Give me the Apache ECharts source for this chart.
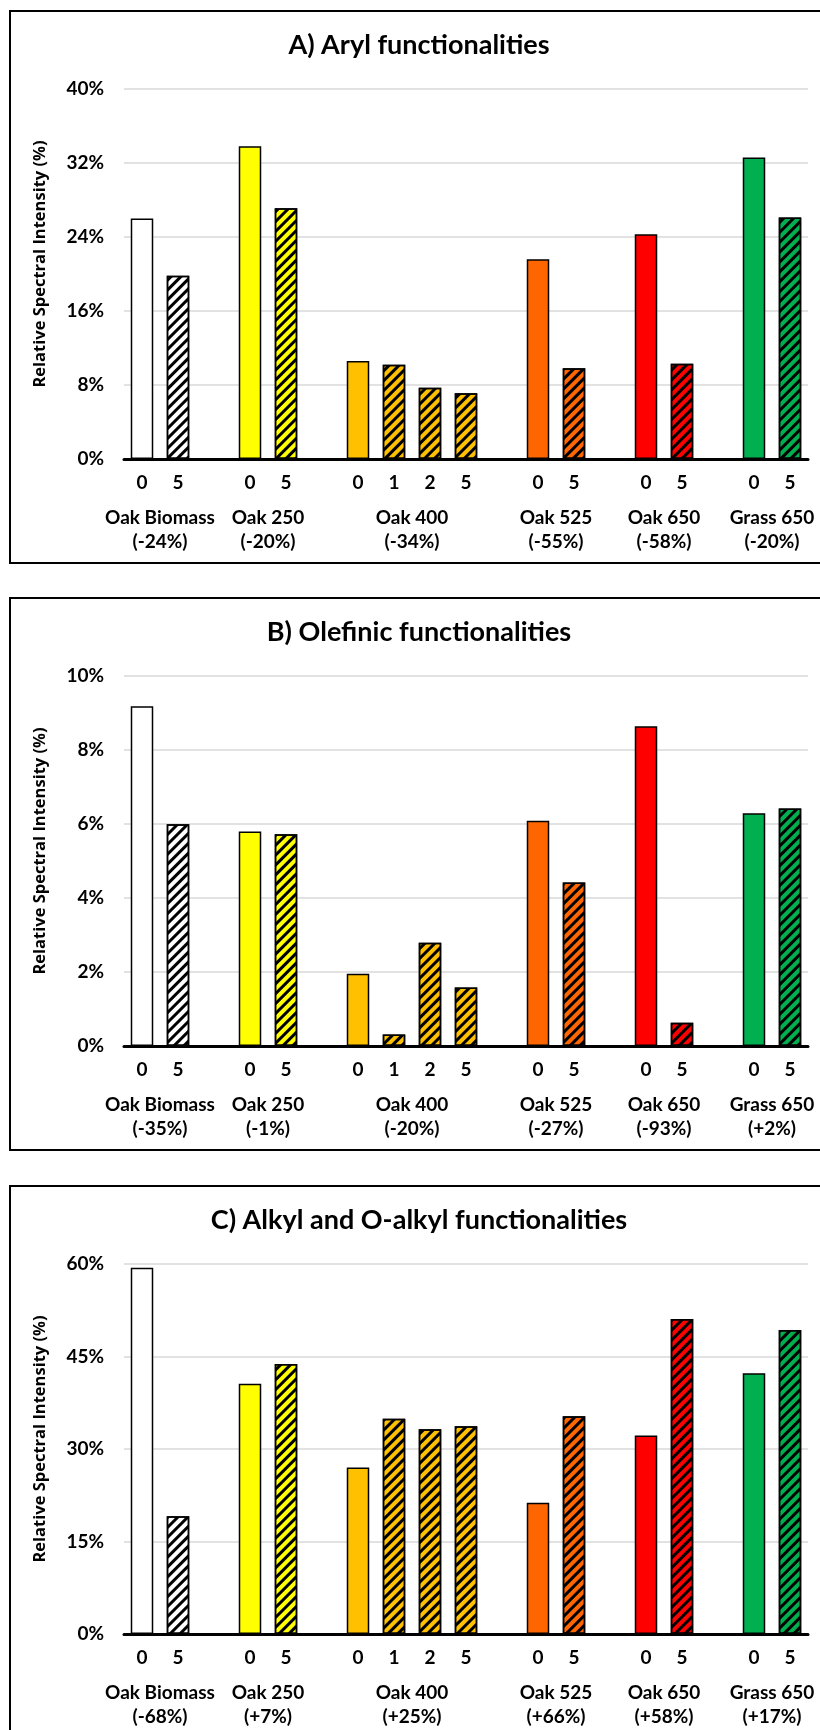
<!DOCTYPE html>
<html>
<head>
<meta charset="utf-8">
<script src="https://cdn.jsdelivr.net/npm/echarts@6/dist/echarts.min.js"></script>
<style>
html,body{margin:0;padding:0;background:#fff;}
#chart{width:820px;height:1730px;}
</style>
</head>
<body>
<div id="chart"></div>
<script>
// ---------- data ----------
const groupNames = ['Oak Biomass', 'Oak 250', 'Oak 400', 'Oak 525', 'Oak 650', 'Grass 650'];
const groupTimes = [['0','5'], ['0','5'], ['0','1','2','5'], ['0','5'], ['0','5'], ['0','5']];

const panelTitles = ['A) Aryl functionalities', 'B) Olefinic functionalities', 'C) Alkyl and O-alkyl functionalities'];
const yAxisName = 'Relative Spectral Intensity (%)';

// values in %, in order of the bars (group by group, time points in order)
const arylValues     = [26.0, 19.8, 33.8, 27.1, 10.6, 10.2, 7.7, 7.1, 21.6, 9.8, 24.3, 10.3, 32.6, 26.1];
const olefinicValues = [9.18, 5.99, 5.80, 5.72, 1.95, 0.31, 2.79, 1.58, 6.09, 4.42, 8.64, 0.63, 6.29, 6.42];
const alkylValues    = [59.4, 19.1, 40.6, 43.8, 27.0, 34.9, 33.2, 33.7, 21.3, 35.3, 32.2, 51.1, 42.3, 49.3];

const arylChanges     = ['-24%', '-20%', '-34%', '-55%', '-58%', '-20%'];
const olefinicChanges = ['-35%', '-1%', '-20%', '-27%', '-93%', '+2%'];
const alkylChanges    = ['-68%', '+7%', '+25%', '+66%', '+58%', '+17%'];

const yMax      = [40, 10, 60];
const yInterval = [8, 2, 15];

// ---------- style ----------
const groupColors = ['#FFFFFF', '#FFFF00', '#FFC000', '#FF6600', '#FF0000', '#00B050'];
const panelTops = [11, 598, 1186];
const FONT = 'Lato, "Liberation Sans", sans-serif';

// ---------- build slots (groups separated by an empty slot) ----------
const slotLabels = [];
const slotGroup = [];   // group index for bar slots, -1 for gap
const groupCenter = []; // in slot units (value axis 0..N)
groupTimes.forEach((times, g) => {
  if (g > 0) { slotLabels.push(''); slotGroup.push(-1); }
  const start = slotLabels.length;
  times.forEach(t => { slotLabels.push(t); slotGroup.push(g); });
  groupCenter.push((start + slotLabels.length) / 2);
});
const nSlots = slotLabels.length;

const hatch = {
  symbol: 'rect', symbolSize: 1,
  dashArrayX: [1, 0], dashArrayY: [2.2, 3.4],
  rotation: -Math.PI / 4, color: '#000'
};

function buildData(values) {
  const out = [];
  let k = 0;
  for (let s = 0; s < nSlots; s++) {
    const g = slotGroup[s];
    if (g < 0) { out.push('-'); continue; }
    const item = { value: values[k++], itemStyle: { color: groupColors[g] } };
    if (slotLabels[s] !== '0') item.itemStyle.decal = hatch;
    out.push(item);
  }
  return out;
}

const panelValues = [arylValues, olefinicValues, alkylValues];
const panelChanges = [arylChanges, olefinicChanges, alkylChanges];

const option = {
  animation: false,
  backgroundColor: '#fff',
  title: [], grid: [], xAxis: [], yAxis: [], series: [], graphic: []
};

panelTops.forEach((top, i) => {
  option.graphic.push({
    type: 'rect', silent: true,
    shape: { x: 10, y: top, width: 822, height: 552 },
    style: { fill: 'none', stroke: '#000', lineWidth: 2 }
  });
  option.title.push({
    text: panelTitles[i], left: 419, top: top + 21, textAlign: 'center', padding: 0,
    textStyle: { fontFamily: FONT, fontWeight: 'bold', fontSize: 27, color: '#000' }
  });
  option.grid.push({ left: 124, right: 12, top: top + 78, height: 370 });
  option.xAxis.push({
    type: 'category', gridIndex: i, data: slotLabels,
    axisLine: { lineStyle: { color: '#000', width: 3 } },
    axisTick: { show: false },
    axisLabel: { interval: 0, margin: 14, color: '#000', fontFamily: FONT, fontWeight: 'bold', fontSize: 19 }
  });
  const changes = panelChanges[i];
  option.xAxis.push({
    type: 'value', gridIndex: i, min: 0, max: nSlots, interval: 1, position: 'bottom',
    axisLine: { show: false }, axisTick: { show: false }, splitLine: { show: false },
    axisLabel: {
      margin: 47, color: '#000', fontFamily: FONT, fontWeight: 'bold', fontSize: 19, lineHeight: 24,
      showMinLabel: true, showMaxLabel: true,
      formatter: v => {
        const g = groupCenter.indexOf(v);
        return g < 0 ? '' : groupNames[g] + '\n(' + changes[g] + ')';
      }
    }
  });
  option.yAxis.push({
    type: 'value', gridIndex: i, min: 0, max: yMax[i], interval: yInterval[i],
    name: yAxisName, nameLocation: 'middle', nameRotate: 90, nameGap: 75,
    nameTextStyle: { fontFamily: '"Open Sans", sans-serif', fontWeight: 'bold', fontSize: 16.5, color: '#000', padding: [0, 0, 0, 20] },
    axisLine: { show: false }, axisTick: { show: false },
    splitLine: { lineStyle: { color: '#D9D9D9', width: 1.5 } },
    axisLabel: { margin: 20, color: '#000', fontFamily: FONT, fontWeight: 'bold', fontSize: 19, formatter: '{value}%' }
  });
  option.series.push({
    type: 'bar', xAxisIndex: 2 * i, yAxisIndex: i,
    barWidth: 22.5,
    itemStyle: { borderColor: '#000', borderWidth: 1.5 },
    data: buildData(panelValues[i])
  });
});

const chart = echarts.init(document.getElementById('chart'), null, { renderer: 'canvas' });
chart.setOption(option);
</script>
</body>
</html>
